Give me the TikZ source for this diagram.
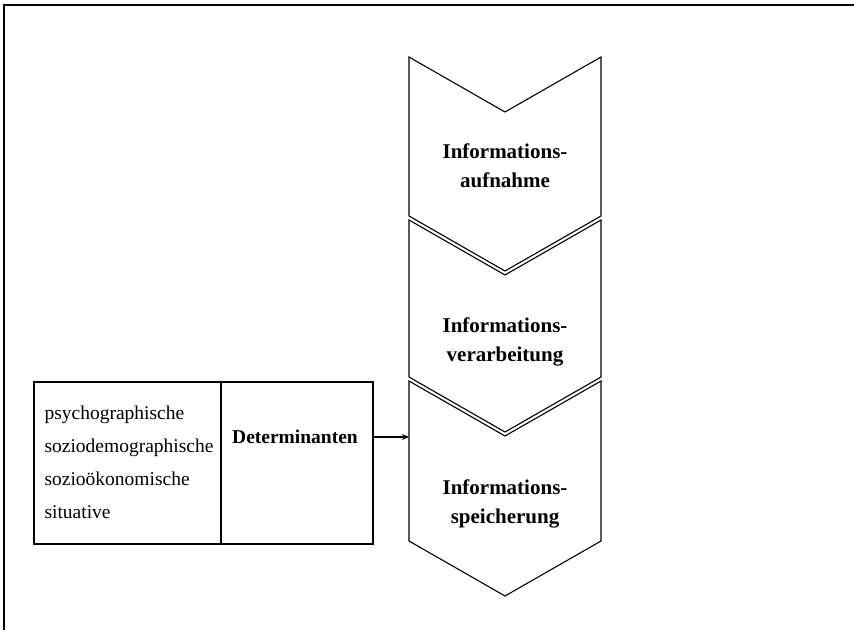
\documentclass[tikz,border=0pt]{standalone}
\usepackage{fontspec}
\setmainfont{Liberation Serif}
\usetikzlibrary{arrows.meta}
\begin{document}
\begin{tikzpicture}[x=1pt,y=-1pt,
  line width=1.1pt,
  frameline/.style={line width=1.4pt},
  boxshape/.style={draw, rectangle, inner sep=0pt},
  chevshape/.style={draw, fill=white, line join=miter},
  chevtext/.style={font=\fontsize{21}{29}\selectfont\bfseries, align=center, inner sep=0pt},
  plaintext/.style={font=\fontsize{19.5}{33}\selectfont, inner sep=0pt},
  conn/.style={-{Stealth[length=7pt,width=6pt]}, line width=1.1pt}]
\useasboundingbox (0,0) rectangle (854,630);
% frame (top and left edge only)
\draw[frameline] (4,630) -- (4,5) -- (854,5);
% chevrons
\draw[chevshape] (409,381) -- (505,436) -- (601,381) -- (601,541) -- (505,596) -- (409,541) -- cycle;
\draw[chevshape] (409,220) -- (505,275) -- (601,220) -- (601,377) -- (505,432) -- (409,377) -- cycle;
\draw[chevshape] (409,57) -- (505,112) -- (601,57) -- (601,216) -- (505,271) -- (409,216) -- cycle;
\coordinate (c3w) at (409,437);
\node[chevtext] (c1) at (505,166) {Informations-\\aufnahme};
\node[chevtext] (c2) at (505,342) {Informations-\\verarbeitung};
\node[chevtext] (c3) at (505,504) {Informations-\\speicherung};
% left boxes
\node[boxshape, minimum width=187pt, minimum height=162pt] (types) at (127.5,463) {};
\node[boxshape, minimum width=152pt, minimum height=162pt] (det) at (297,463) {};
\node[plaintext, anchor=west, align=left] (typestext) at (44,462.5)
  {psychographische\\soziodemographische\\sozioökonomische\\situative};
\node[plaintext, font=\fontsize{19.5}{23}\selectfont\bfseries] (dettext) at (295,437) {Determinanten};
\draw[conn] (det.east |- dettext.center) -- (c3w);
\end{tikzpicture}
\end{document}
